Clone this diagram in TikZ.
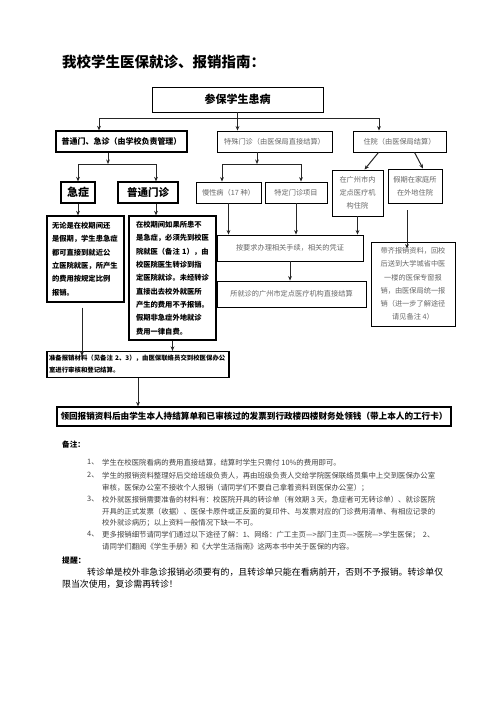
\documentclass[tikz,border=0pt]{standalone}
\usepackage{fontspec}
\setmainfont{Noto Sans CJK SC}
\usetikzlibrary{arrows.meta}

\tikzset{
  box/.style={draw, line width=0.9pt, inner sep=0pt, align=center},
  bbox/.style={box, font=\bfseries\fontsize{7.3}{13.3}\selectfont},
  gbox/.style={box, text=black!60, font=\fontsize{7.2}{13.2}\selectfont},
  link/.style={line width=1pt, draw=black!85},
  arr/.style={link, -{Stealth[length=4.5pt,width=3.8pt]}},
  note/.style={anchor=north west, inner sep=0pt, align=left, text=black!75, font=\fontsize{7.4}{11.5}\selectfont},
  num/.style={note, font=\fontsize{7.4}{11.5}\selectfont},
}

\begin{document}
\begin{tikzpicture}[x=1pt,y=-1pt]
\useasboundingbox (0,0) rectangle (496,702);

%% title
\node[anchor=west, inner sep=0pt, font=\bfseries\fontsize{14.5}{16}\selectfont] (title) at (62,62) {我校学生医保就诊、报销指南：};

%% boxes
\node[box, minimum width=171, minimum height=25, font=\bfseries\fontsize{11}{13}\selectfont] (ill) at (237.5,99.5) {参保学生患病};

\node[box, line width=1.3pt, minimum width=131, minimum height=21, font=\bfseries\fontsize{8}{10}\selectfont] (school) at (121.5,141.5) {普通门、急诊（由学校负责管理）};
\node[gbox, minimum width=115, minimum height=21] (special) at (274.5,141.5) {特殊门诊（由医保局直接结算）};
\node[gbox, minimum width=93, minimum height=21] (inpat) at (399.5,141.5) {住院（由医保局结算）};

\node[box, line width=1.3pt, minimum width=34, minimum height=21, font=\bfseries\fontsize{11}{13}\selectfont] (emerg) at (78,192.5) {急症};
\node[box, line width=1.3pt, minimum width=60, minimum height=21, font=\bfseries\fontsize{10.5}{12}\selectfont] (clinic) at (148,192.5) {普通门诊};
\node[gbox, minimum width=65, minimum height=21] (chronic) at (228.5,192.5) {慢性病（17 种）};
\node[gbox, minimum width=62, minimum height=21] (item) at (296,192.5) {特定门诊项目};
\node[gbox, minimum width=51, minimum height=46] (gzhosp) at (357.5,193) {在广州市内\\定点医疗机\\构住院};
\node[gbox, minimum width=54, minimum height=34] (away) at (415,186) {假期在家庭所\\在外地住院};

\node[bbox, line width=1.3pt, minimum width=77, minimum height=86, text width=67, align=left] (anytime) at (85.5,259)
  {无论是在校期间还\\是假期，学生患急症\\都可直接到就近公\\立医院就医，所产生\\的费用按规定比例\\报销。};
\node[bbox, line width=1.3pt, minimum width=87, minimum height=124, text width=73, align=left] (term) at (172.5,278)
  {在校期间如果所患不\\是急症，必须先到校医\\院就医（备注 1），由\\校医院医生转诊到指\\定医院就诊。未经转诊\\直接出去校外就医所\\产生的费用不予报销。\\假期非急症外地就诊\\费用一律自费。};
\node[gbox, minimum width=146, minimum height=26] (proc) at (290,248) {按要求办理相关手续，相关的凭证};
\node[gbox, minimum width=149, minimum height=26] (direct) at (291.5,294) {所就诊的广州市定点医疗机构直接结算};
\node[gbox, minimum width=84, minimum height=84] (back) at (413,284)
  {带齐报销资料，回校\\后送到大学城省中医\\一楼的医保专窗报\\销，由医保局统一报\\销（进一步了解途径\\请见备注 4）};

\node[box, line width=1.3pt, minimum width=182, minimum height=26, text width=178, align=left, font=\bfseries\fontsize{6.4}{12}\selectfont] (prep) at (138,364.5)
  {准备报销材料（见备注~2、3），由医保联络员交到校医保办公\\室进行审核和登记结算。};
\node[box, line width=1.3pt, minimum width=394, minimum height=19, font=\bfseries\fontsize{8.6}{10}\selectfont] (collect) at (254,416.5)
  {领回报销资料后由学生本人持结算单和已审核过的发票到行政楼四楼财务处领钱（带上本人的工行卡）};

%% connectors
\coordinate (j1) at (99,118);
\coordinate (j3) at (379,118);
\draw[link] (ill.south) -- (ill.south |- j1);
\draw[link] (j1) -- (j3);
\draw[arr] (j1) -- (j1 |- school.north);
\draw[arr] (ill.south) -- (ill.south |- special.north);
\draw[arr] (j3) -- (j3 |- inpat.north);

\coordinate (j4) at (108,164);
\coordinate (j5) at (156,164);
\draw[arr] (school.south -| j4) -- (j4);
\draw[link] (emerg.north |- j4) -- (j5);
\draw[arr] (emerg.north |- j4) -- (emerg.north);
\draw[arr] (j5) -- (j5 |- clinic.north);

\coordinate (j6) at (257,164);
\coordinate (j7) at (222,164);
\coordinate (j8) at (301,164);
\draw[arr] (special.south -| j6) -- (j6);
\draw[link] (j7) -- (j8);
\draw[arr] (j7) -- (j7 |- chronic.north);
\draw[arr] (j8) -- (j8 |- item.north);

\draw[arr] ([xshift=-21]inpat.south) -- ([xshift=7]gzhosp.north);
\draw[arr] ([xshift=15]inpat.south) -- ([xshift=8]away.north);

\draw[arr] (emerg.south) -- (emerg.south |- anytime.north);
\draw[arr] (j5 |- clinic.south) -- (j5 |- term.north);
\draw[arr] (chronic.south) -- (chronic.south |- proc.north);
\draw[arr] (item.south) -- (item.south |- proc.north);
\draw[arr] (gzhosp.south) -- (gzhosp.south |- proc.north);
\draw[arr] (proc.south) -- (proc.south |- direct.north);
\draw[arr] ([shift={(-8,7)}]away.south) -- ([shift={(-8,7)}]away.south |- back.north);

\draw[arr] ([shift={(-3.5,5)}]anytime.south) -- ([shift={(-3.5,5)}]anytime.south |- prep.north);
\draw[arr] (term.south) -- (term.south |- prep.north);
\draw[arr] (prep.south) -- (prep.south |- collect.north);

%% notes
\node[anchor=west, inner sep=0pt, font=\bfseries\fontsize{7.6}{9}\selectfont] (remark) at (62,445) {备注：};
\node[num] (n1) at (87,459) {1、};
\node[note] (t1) at (102,459) {学生在校医院看病的费用直接结算，结算时学生只需付 10\%的费用即可。};
\node[num] (n2) at (87,472) {2、};
\node[note] (t2) at (102,472) {学生的报销资料整理好后交给班级负责人，再由班级负责人交给学院医保联络员集中上交到医保办公室\\审核，医保办公室不接收个人报销（请同学们不要自己拿着资料到医保办公室）；};
\node[num] (n3) at (87,496) {3、};
\node[note] (t3) at (102,496) {校外就医报销需要准备的材料有：校医院开具的转诊单（有效期 3 天，急症者可无转诊单）、就诊医院\\开具的正式发票（收据）、医保卡原件或正反面的复印件、与发票对应的门诊费用清单、有相应记录的\\校外就诊病历；以上资料一般情况下缺一不可。};
\node[num] (n4) at (87,531) {4、};
\node[note] (t4) at (102,531) {更多报销细节请同学们通过以下途径了解：1、网络：广工主页—>部门主页—>医院—>学生医保；\ \ 2、\\请同学们翻阅《学生手册》和《大学生活指南》这两本书中关于医保的内容。};

\node[anchor=west, inner sep=0pt, font=\bfseries\fontsize{7.8}{9}\selectfont] (tip) at (62,561) {提醒：};
\node[anchor=north west, inner sep=0pt, align=left, font=\fontsize{8.9}{11.4}\selectfont] (tiptext) at (62,568)
  {\hspace*{25pt}转诊单是校外非急诊报销必须要有的，且转诊单只能在看病前开，否则不予报销。转诊单仅\\限当次使用，复诊需再转诊！};
\end{tikzpicture}
\end{document}
